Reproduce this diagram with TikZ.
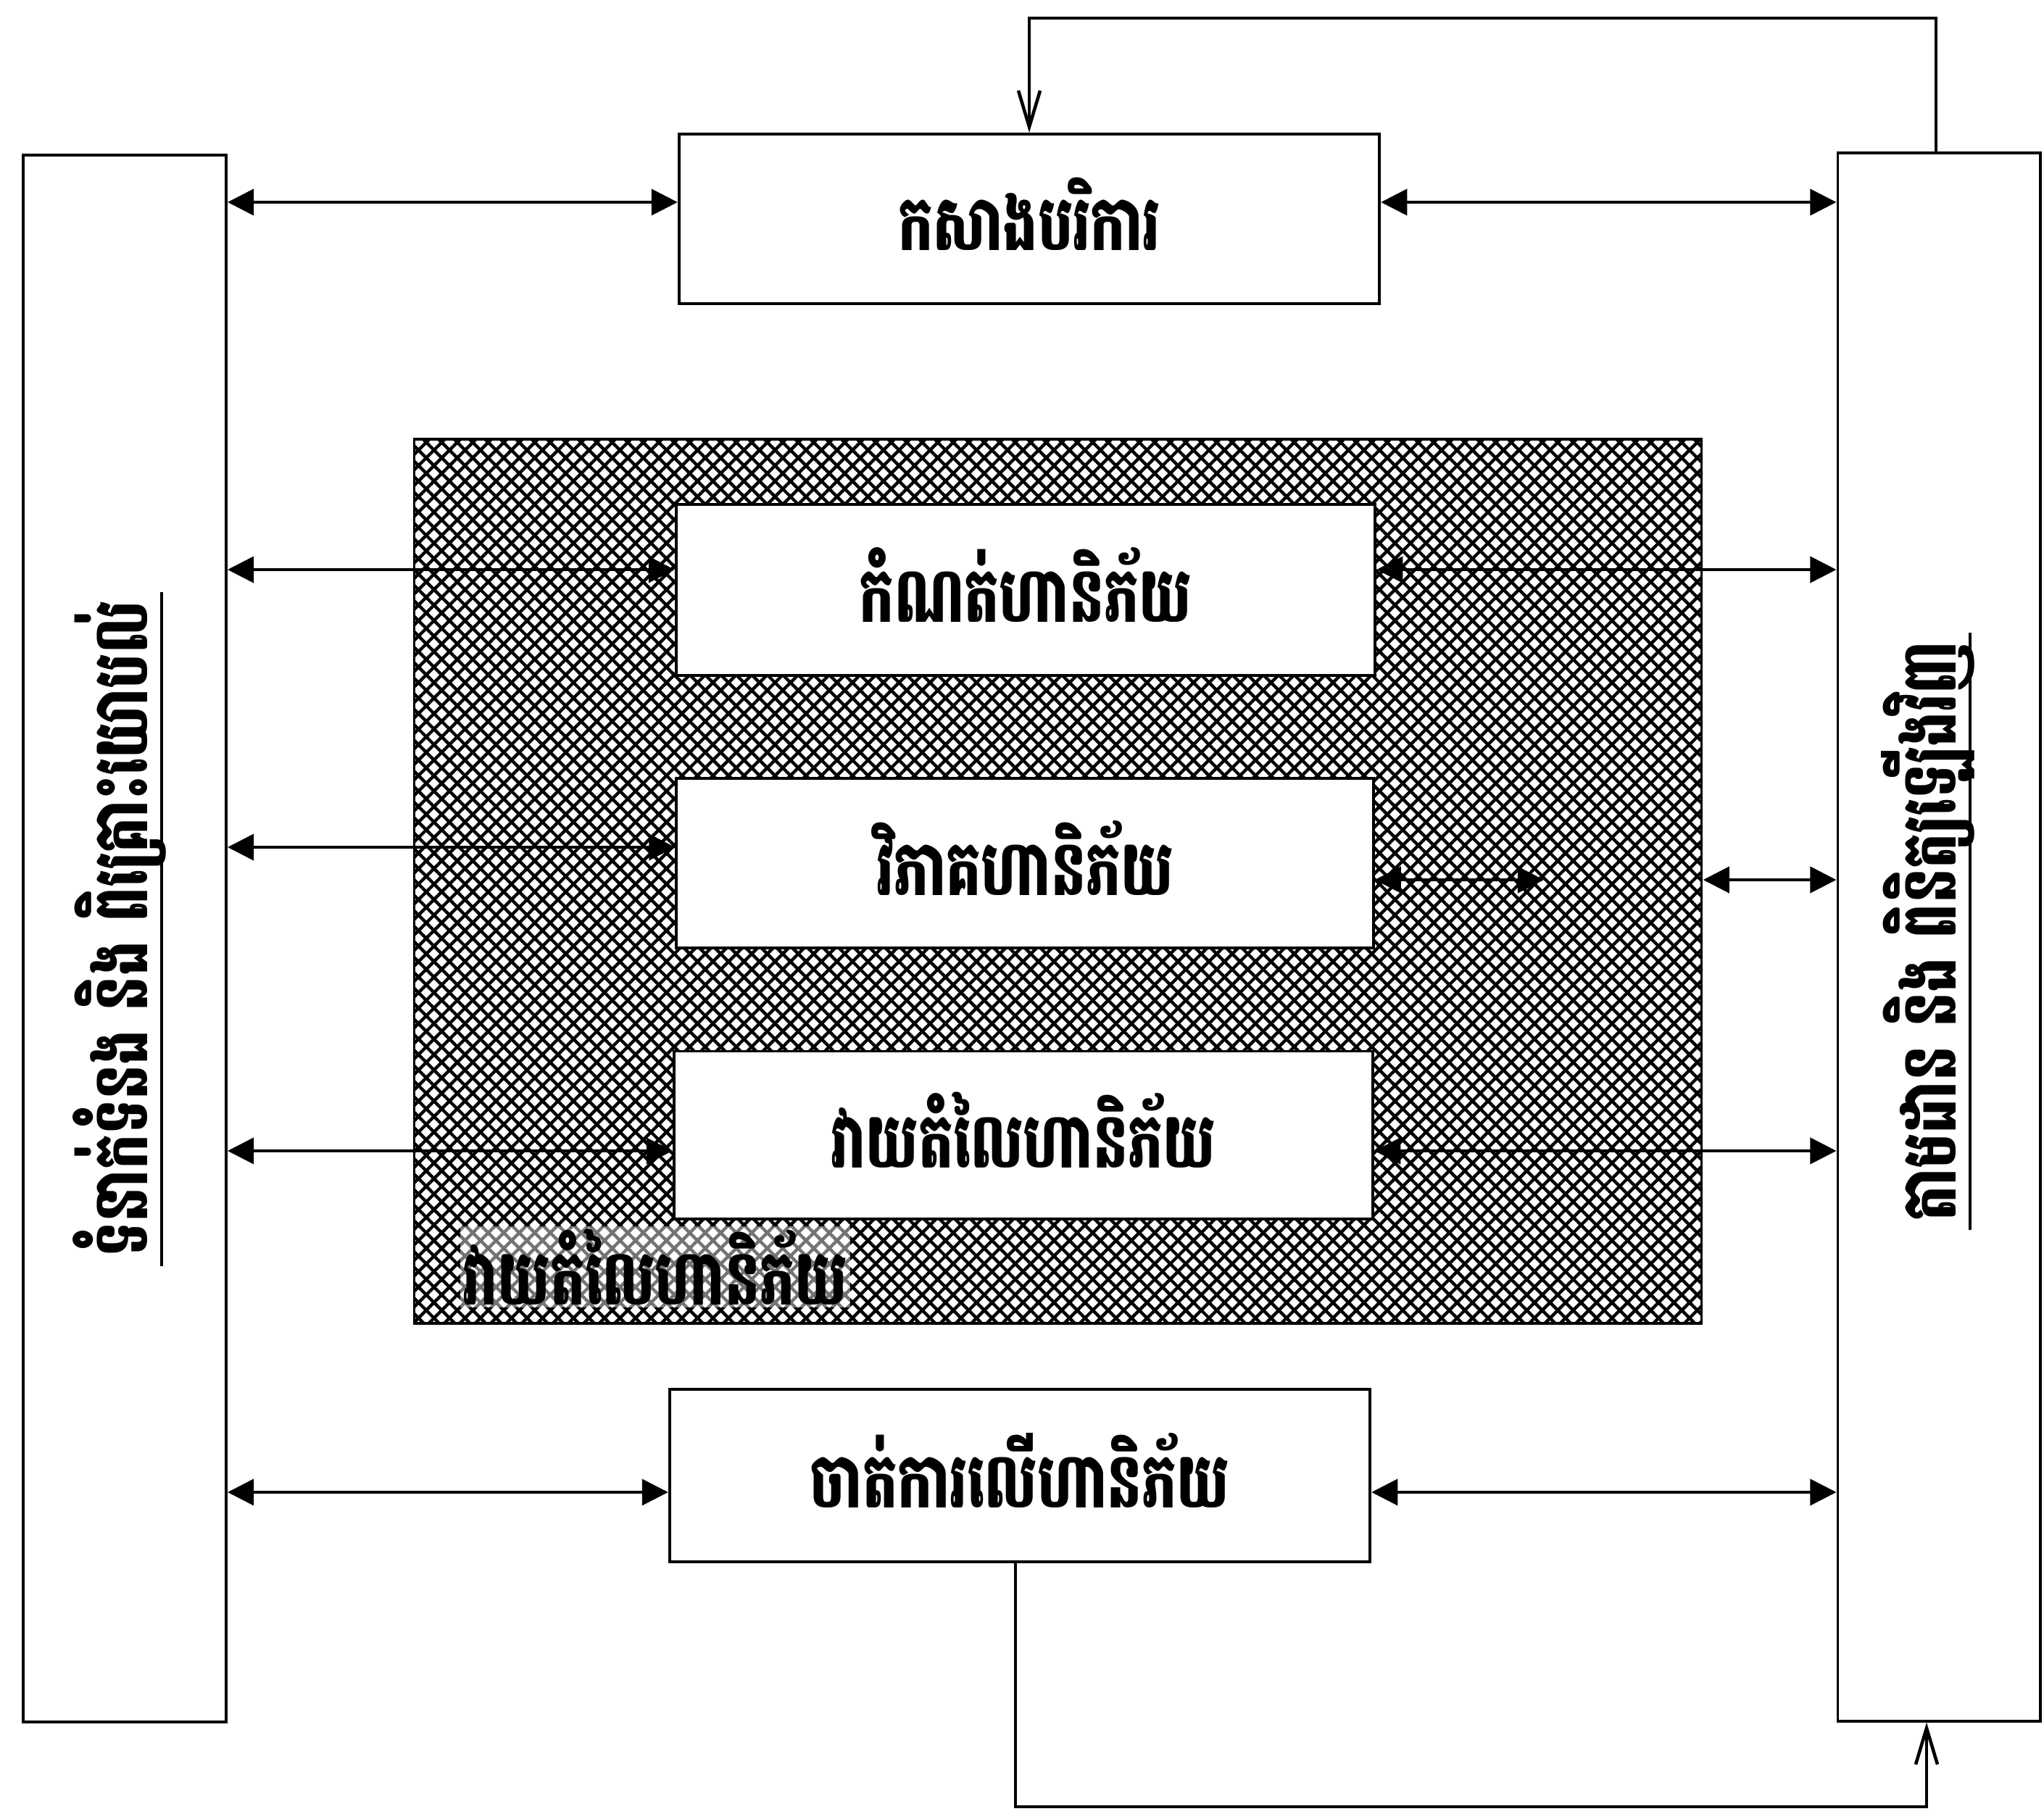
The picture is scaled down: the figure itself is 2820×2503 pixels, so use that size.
\documentclass[tikz,border=0pt]{standalone}
\usepackage{fontspec}
\usepackage{graphicx}
\newfontfamily\kh[Script=Khmer]{Battambang}
\newcommand{\kht}[1]{\scalebox{0.72}[1]{#1}}
\newcommand{\khb}[1]{\raisebox{4pt}{\scalebox{0.72}[1]{#1}}}
\usetikzlibrary{arrows.meta,patterns.meta,calc}
\begin{document}
\begin{tikzpicture}[x=0.01cm,y=-0.01cm,
  khtext/.style={font=\kh\bfseries\fontsize{30}{36}\selectfont},
  box/.style={draw,line width=1.1pt,fill=white,inner sep=0pt,khtext},
  tall/.style={draw,line width=1.1pt,fill=white,inner sep=0pt,minimum width=2.8cm,minimum height=21.6cm},
  zone/.style={draw,line width=1.1pt,inner sep=0pt,pattern={Hatch[angle=45,distance=4.3pt,line width=1.25pt]}},
  dbl/.style={line width=1.1pt,{Triangle[length=0.36cm,width=0.36cm]}-{Triangle[length=0.36cm,width=0.36cm]}},
  fb/.style={line width=1.3pt,-{Straight Barb[length=0.5cm,width=0.3cm]}},
]
\useasboundingbox (0,0) rectangle (2820,2503);
% shaded zone
\node[zone,minimum width=17.75cm,minimum height=12.2cm] (zone) at (1459.5,1216) {};
\node[khtext,fill=white,fill opacity=0.45,text opacity=1,inner sep=1pt] (zlabel) at (904,1748) {\kht{វាយតំលៃហានិភ័យ}};
% side boxes
\node[tall] (L) at (172,1295) {};
\node[tall,minimum width=2.79cm,minimum height=21.62cm] (R) at (2675,1293) {};
\node[khtext,rotate=90,anchor=base] (Lt) at (203,1282) {\kht{ទំនាក់ទំនង និង ពិគ្រោះយោបល់}};
\node[khtext,rotate=90,anchor=base] (Rt) at (2698,1285) {\kht{តាមដាន និង ពិនិត្យឡើងវិញ}};
\draw[line width=1.1pt] ($(Lt.base west)+(20,0)$) -- ($(Lt.base east)+(20,0)$);
\draw[line width=1.1pt] ($(Rt.base west)+(20,0)$) -- ($(Rt.base east)+(20,0)$);
% process boxes
\node[box,minimum width=9.66cm,minimum height=2.34cm] (top) at (1420,302) {\khb{កសាងបរិការ}};
\node[box,minimum width=9.64cm,minimum height=2.36cm] (kon) at (1415,814) {\khb{កំណត់ហានិភ័យ}};
\node[box,minimum width=9.61cm,minimum height=2.34cm] (vi) at (1414,1191) {\khb{វិភាគហានិភ័យ}};
\node[box,minimum width=9.64cm,minimum height=2.31cm] (vay) at (1412,1566) {\khb{វាយតំលៃហានិភ័យ}};
\node[box,minimum width=9.66cm,minimum height=2.38cm] (treat) at (1407,2036) {\khb{ចាត់ការលើហានិភ័យ}};
% arrow levels
\coordinate (ya) at (0,279);
\coordinate (yb) at (0,786);
\coordinate (yc) at (0,1169);
\coordinate (ycr) at (0,1214);
\coordinate (yd) at (0,1588);
\coordinate (ye) at (0,2059);
\coordinate (viend) at (2130,1214);
\draw[dbl] (L.east |- ya) -- (top.west |- ya);
\draw[dbl] (top.east |- ya) -- (R.west |- ya);
\draw[dbl] (L.east |- yb) -- (kon.west |- yb);
\draw[dbl] (kon.east |- yb) -- (R.west |- yb);
\draw[dbl] (L.east |- yc) -- (vi.west |- yc);
\draw[dbl] (vi.east |- ycr) -- (viend);
\draw[dbl] (zone.east |- ycr) -- (R.west |- ycr);
\draw[dbl] (L.east |- yd) -- (vay.west |- yd);
\draw[dbl] (vay.east |- yd) -- (R.west |- yd);
\draw[dbl] (L.east |- ye) -- (treat.west |- ye);
\draw[dbl] (treat.east |- ye) -- (R.west |- ye);
% feedback loops
\coordinate (fbt) at (2671,25);
\draw[fb] (R.north -| fbt) -- (fbt) -- (fbt -| top.north) -- (top.north);
\coordinate (fbb) at (1401,2493);
\coordinate (fbr) at (2658,2493);
\draw[fb] (treat.south -| fbb) -- (fbb) -- (fbr) -- (R.south -| fbr);
\end{tikzpicture}
\end{document}
